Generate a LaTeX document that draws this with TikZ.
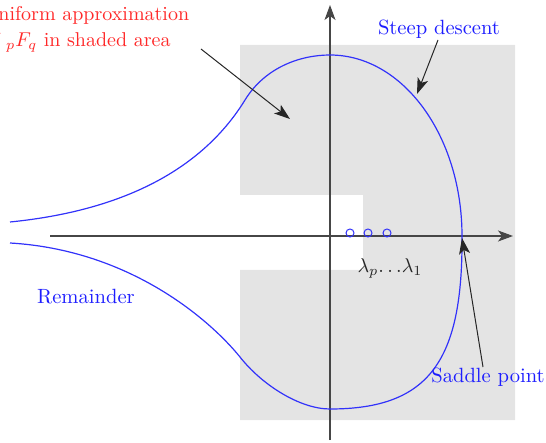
\documentclass[tikz,border=0pt]{standalone}
\usetikzlibrary{arrows.meta}
\definecolor{curveblue}{RGB}{50,50,250}
\definecolor{txtblue}{RGB}{30,30,255}
\definecolor{txtred}{RGB}{255,40,40}
\definecolor{shadegray}{RGB}{228,228,228}
\definecolor{axisgray}{RGB}{70,70,70}
\tikzset{
  axis/.style={draw=axisgray,line width=0.55pt,-{Stealth[length=7.5pt,width=5.5pt,inset=2pt]}},
  pointer/.style={draw=black!85,line width=0.5pt,-{Stealth[length=8pt,width=5.5pt,inset=2pt]}},
  lbl/.style={inner sep=0pt,font=\fontsize{10.3}{13}\selectfont},
  pole/.style={draw=curveblue,line width=0.5pt,circle,minimum size=4pt,inner sep=0pt},
}
\begin{document}
\begin{tikzpicture}[x=0.5pt,y=-0.5pt]
\useasboundingbox (0,0) rectangle (546,443);
% shaded area
\fill[shadegray] (240,45) -- (515,45) -- (515,420) -- (240,420) -- (240,270) -- (363,270) -- (363,195) -- (240,195) -- cycle;
% axes
\coordinate (xs) at (50,236);
\coordinate (xe) at (513,236);
\coordinate (ys) at (330,440);
\coordinate (ye) at (330,5);
\draw[axis] (xs) -- (xe);
\draw[axis] (ys) -- (ye);
% contour
\coordinate (c0) at (10,222);
\coordinate (c1) at (245,100);
\coordinate (c2) at (330,55);
\coordinate (c3) at (462,236);
\coordinate (c4) at (330,409);
\coordinate (c5) at (240,357);
\coordinate (c6) at (10,243);
\draw[curveblue,line width=0.6pt]
  (c0) .. controls (130,210) and (205,165) .. (c1)
       .. controls (265,67.5) and (300,55) .. (c2)
       .. controls (403,55) and (462,136) .. (c3)
       .. controls (463,360) and (430,409) .. (c4)
       .. controls (300,409) and (262,385) .. (c5)
       .. controls (210,320) and (130,250) .. (c6);
% poles
\node[pole] (p1) at (350,233) {};
\node[pole] (p2) at (368,233) {};
\node[pole] (p3) at (387,233) {};
\node[lbl,text=black!85] (lam) at (390,268) {$\lambda_p{\ldotp\ldotp\ldotp}\lambda_1$};
% labels
\node[inner sep=0pt,font=\fontsize{10}{13}\selectfont,text=txtred,anchor=base west,align=left] (unif) at (-17,47) {Uniform approximation\\of ${}_pF_q$ in shaded area};
\node[lbl,text=txtblue,anchor=base] (steep) at (439,35) {Steep descent};
\node[lbl,text=txtblue,anchor=base] (saddle) at (488,382) {Saddle point};
\node[lbl,text=txtblue,anchor=base] (rem) at (86,304) {Remainder};
% pointers
\coordinate (u0) at (201,49);
\coordinate (u1) at (290,119);
\coordinate (s0) at (438,40);
\coordinate (s1) at (417,94);
\coordinate (d0) at (483,367);
\coordinate (d1) at (462,238);
\draw[pointer] (u0) -- (u1);
\draw[pointer] (s0) -- (s1);
\draw[pointer] (d0) -- (d1);
\end{tikzpicture}
\end{document}
